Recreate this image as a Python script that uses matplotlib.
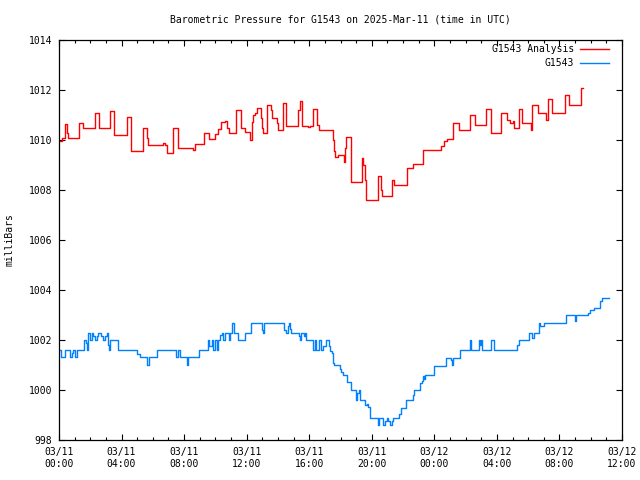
import matplotlib
matplotlib.use("Agg")
import matplotlib.pyplot as plt
import matplotlib.dates as mdates
from matplotlib.lines import Line2D
import pandas as pd

plt.rcParams['font.family'] = ['DejaVu Sans Mono']

title = "Barometric Pressure for G1543 on 2025-Mar-11 (time in UTC)"
y_label = "milliBars"
start_time = "2025-03-11 00:00"
end_time = "2025-03-12 12:00"

# minutes after start, pressure (mbar) -- step changes
analysis_minutes = [0, 12, 23, 31, 35, 77, 92, 138, 154, 196, 211, 261, 276, 323, 338, 342,
                    399, 407, 415, 438, 457, 515, 522, 557, 576, 599, 611, 622, 637, 645, 653,
                    680, 699, 714, 733, 741, 745, 753, 760, 776, 780, 783, 799, 814, 818, 837,
                    841, 860, 872, 918, 925, 933, 956, 964, 975, 991, 998, 1052, 1056, 1060,
                    1071, 1094, 1098, 1102, 1121, 1164, 1167, 1175, 1179, 1225, 1236, 1240,
                    1279, 1286, 1336, 1348, 1359, 1398, 1467, 1478, 1490, 1513, 1536, 1578,
                    1597, 1640, 1659, 1697, 1720, 1732, 1743, 1747, 1763, 1766, 1778, 1809,
                    1816, 1836, 1870, 1878, 1893, 1943, 1958, 2001, 2012]
analysis_values = [1009.96, 1010.1, 1010.63, 1010.28, 1010.1, 1010.7, 1010.47, 1011.1, 1010.48,
                   1011.15, 1010.2, 1010.92, 1009.56, 1010.5, 1010.1, 1009.8, 1009.9, 1009.8,
                   1009.5, 1010.48, 1009.7, 1009.62, 1009.84, 1010.3, 1010.05, 1010.25, 1010.45,
                   1010.73, 1010.78, 1010.47, 1010.3, 1011.2, 1010.47, 1010.33, 1010.0, 1010.73,
                   1011.0, 1011.1, 1011.27, 1010.9, 1010.5, 1010.3, 1011.4, 1011.2, 1010.9,
                   1010.7, 1010.39, 1011.47, 1010.56, 1011.2, 1011.56, 1010.56, 1010.52, 1010.56,
                   1011.23, 1010.6, 1010.4, 1010.0, 1009.57, 1009.33, 1009.4, 1009.13, 1009.7,
                   1010.13, 1008.32, 1009.27, 1009.0, 1008.4, 1007.6, 1008.57, 1008.0, 1007.76,
                   1008.4, 1008.2, 1008.87, 1008.9, 1009.03, 1009.6, 1009.75, 1009.97, 1010.03,
                   1010.67, 1010.39, 1011.0, 1010.6, 1011.23, 1010.29, 1011.07, 1010.8, 1010.7,
                   1010.75, 1010.47, 1011.0, 1011.23, 1010.67, 1010.4, 1011.39, 1011.1, 1010.8,
                   1011.63, 1011.1, 1011.8, 1011.4, 1012.1, 1012.1]

station_minutes = [0, 8, 23, 42, 50, 54, 61, 69, 96, 104, 108, 111, 119, 127, 131, 138, 146,
                   150, 161, 169, 177, 184, 188, 192, 196, 227, 300, 311, 338, 346, 376, 449,
                   457, 465, 492, 495, 538, 572, 576, 588, 591, 599, 607, 611, 618, 626, 630,
                   637, 653, 657, 664, 672, 687, 714, 737, 780, 783, 787, 864, 872, 879, 883,
                   887, 891, 922, 925, 929, 941, 945, 948, 975, 983, 987, 998, 1006, 1014,
                   1025, 1037, 1041, 1048, 1052, 1056, 1079, 1083, 1091, 1106, 1121, 1140,
                   1144, 1152, 1156, 1175, 1183, 1187, 1194, 1225, 1229, 1244, 1252, 1260,
                   1263, 1271, 1279, 1283, 1306, 1313, 1332, 1359, 1363, 1386, 1394, 1398,
                   1402, 1405, 1440, 1486, 1505, 1509, 1513, 1540, 1578, 1582, 1613, 1617,
                   1620, 1624, 1659, 1667, 1670, 1759, 1766, 1805, 1816, 1824, 1843, 1847,
                   1855, 1859, 1947, 1978, 1981, 1985, 2031, 2039, 2051, 2077, 2085, 2112]
station_values = [1001.6, 1001.33, 1001.6, 1001.33, 1001.5, 1001.6, 1001.33, 1001.6, 1002.0,
                  1001.9, 1001.6, 1002.3, 1002.0, 1002.3, 1002.15, 1002.0, 1002.15, 1002.3,
                  1002.15, 1002.0, 1002.15, 1002.3, 1001.8, 1001.6, 1002.0, 1001.6, 1001.45,
                  1001.33, 1001.0, 1001.33, 1001.6, 1001.33, 1001.6, 1001.33, 1001.0, 1001.33,
                  1001.6, 1002.0, 1001.75, 1002.0, 1001.6, 1002.0, 1001.6, 1002.0, 1002.2,
                  1002.3, 1002.0, 1002.3, 1002.0, 1002.3, 1002.7, 1002.3, 1002.0, 1002.3,
                  1002.7, 1002.4, 1002.3, 1002.7, 1002.4, 1002.3, 1002.55, 1002.7, 1002.45,
                  1002.3, 1002.15, 1002.0, 1002.3, 1002.15, 1002.3, 1002.0, 1001.6, 1002.0,
                  1001.6, 1002.0, 1001.6, 1001.75, 1002.0, 1001.75, 1001.57, 1001.47, 1001.07,
                  1001.0, 1000.85, 1000.73, 1000.6, 1000.33, 1000.0, 999.6, 999.87, 1000.0,
                  999.6, 999.4, 999.45, 999.33, 998.9, 998.6, 998.9, 998.6, 998.75, 998.9,
                  998.75, 998.6, 998.75, 998.9, 999.05, 999.3, 999.6, 999.8, 1000.0, 1000.3,
                  1000.35, 1000.57, 1000.45, 1000.6, 1000.97, 1001.3, 1001.2, 1001.0, 1001.3,
                  1001.59, 1001.99, 1001.6, 1001.99, 1001.8, 1001.99, 1001.6, 1001.99, 1001.75,
                  1001.6, 1001.8, 1001.99, 1002.3, 1002.1, 1002.3, 1002.7, 1002.55, 1002.55,
                  1002.7, 1003.0, 1002.85, 1002.75, 1003.0, 1003.1, 1003.2, 1003.3, 1003.55,
                  1003.7, 1003.7]

series_labels = ["G1543 Analysis", "G1543"]
series_colors = ["#ff0000", "#0080ff"]

t0 = pd.Timestamp(start_time)
t_end = pd.Timestamp(end_time)
analysis_times = t0 + pd.to_timedelta(analysis_minutes, unit="m")
station_times = t0 + pd.to_timedelta(station_minutes, unit="m")

fig = plt.figure(figsize=(6.4, 4.8), dpi=100)
ax = fig.add_axes([59 / 640, 40 / 480, 563 / 640, 400 / 480])

ax.plot(analysis_times, analysis_values, drawstyle="steps-post", color=series_colors[0], lw=1.0)
ax.plot(station_times, station_values, drawstyle="steps-post", color=series_colors[1], lw=1.0)

ax.set_xlim(t0, t_end)
ax.set_ylim(998, 1014)
ax.set_yticks(range(998, 1015, 2))
ax.xaxis.set_major_locator(mdates.HourLocator(byhour=range(0, 24, 4)))
ax.xaxis.set_minor_locator(mdates.HourLocator())
ax.xaxis.set_major_formatter(mdates.DateFormatter("%m/%d\n%H:%M"))

ax.tick_params(which="both", direction="in", top=True, right=True, labelsize=7, colors="black")
ax.tick_params(which="major", length=4.5, width=0.8)
ax.tick_params(which="minor", length=2.5, width=0.8)
ax.tick_params(axis="x", pad=5)
ax.tick_params(axis="y", pad=5)
for s in ax.spines.values():
    s.set_linewidth(0.9)

fig.text(340 / 640, 1 - 19 / 480, title, ha="center", va="center", fontsize=7)
fig.text(10 / 640, 0.5, y_label, rotation=90, ha="center", va="center", fontsize=7)

# legend (gnuplot style: right-aligned text, sample line at right)
legend_rows = [0.9775, 0.9425]
for lab, col, yy in zip(series_labels, series_colors, legend_rows):
    ax.text(0.915, yy, lab, transform=ax.transAxes, ha="right", va="center", fontsize=7)
    ax.add_line(Line2D([0.925, 0.977], [yy, yy], transform=ax.transAxes, color=col, lw=1.0))

fig.savefig("out.png", dpi=100)
